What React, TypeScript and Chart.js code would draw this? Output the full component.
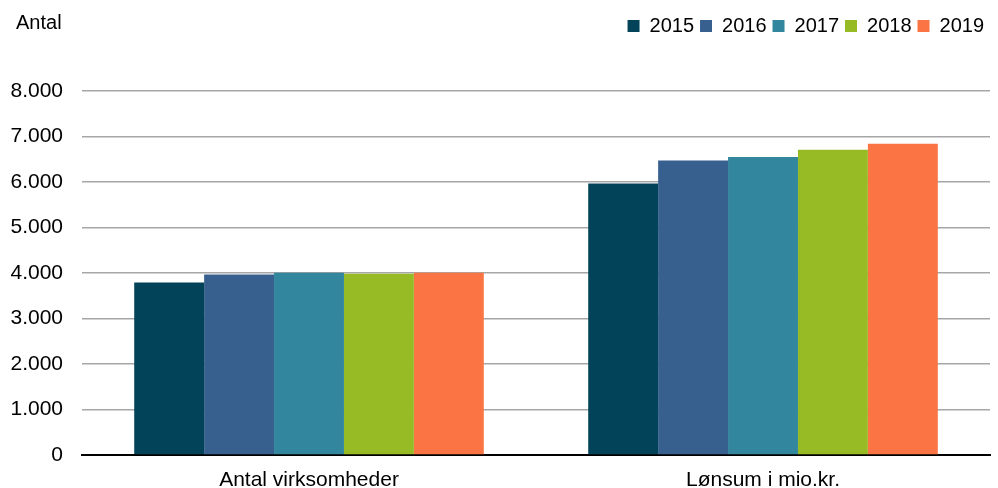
import React, { useEffect, useRef } from "react";
import { Chart, registerables } from "chart.js";

Chart.register(...registerables);

const categories = ["Antal virksomheder", "Lønsum i mio.kr."];
const seriesLabels = ["2015", "2016", "2017", "2018", "2019"];
const values2015 = [3790, 5965];
const values2016 = [3965, 6470];
const values2017 = [4005, 6550];
const values2018 = [3985, 6710];
const values2019 = [4005, 6840];
const seriesColors = ["#03435A", "#37608F", "#32869D", "#96BB24", "#FB7443"];
const yTicks = [0, 1000, 2000, 3000, 4000, 5000, 6000, 7000, 8000];
const yTitle = "Antal";

const FONT = "'Liberation Sans', Arial, sans-serif";

export default function App() {
  const ref = useRef<HTMLCanvasElement>(null);
  useEffect(() => {
    if (!ref.current) return;
    const all = [values2015, values2016, values2017, values2018, values2019];
    const titlePlugin = {
      id: "yTitleText",
      afterInit(chart: any) {
        const lg = chart.legend;
        if (lg) {
          const f = lg.fit;
          lg.fit = function () {
            f.call(this);
            this.height += 45;
          };
        }
      },
      afterDraw(chart: any) {
        const ctx = chart.ctx;
        ctx.save();
        ctx.font = `20px ${FONT}`;
        ctx.fillStyle = "#000";
        ctx.textAlign = "left";
        ctx.textBaseline = "middle";
        ctx.fillText(yTitle, 16, 23);
        ctx.restore();
      },
    };
    const chart = new Chart(ref.current, {
      type: "bar",
      data: {
        labels: categories,
        datasets: all.map((d, i) => ({
          label: seriesLabels[i],
          data: d,
          backgroundColor: seriesColors[i],
          borderWidth: 0,
          categoryPercentage: 0.77,
          barPercentage: 1,
        })),
      },
      options: {
        animation: false,
        responsive: true,
        maintainAspectRatio: false,
        layout: { padding: { left: 0, right: 8, top: 10, bottom: 0 } },
        plugins: {
          tooltip: { enabled: false },
          legend: {
            position: "top",
            align: "end",
            labels: {
              boxWidth: 12,
              boxHeight: 12,
              padding: 6,
              color: "#000",
              font: { family: FONT, size: 20 },
            },
          },
        },
        scales: {
          x: {
            afterFit(scale: any) {
              scale.height = 33;
            },
            grid: { display: false, drawTicks: false },
            border: { display: true, color: "#000", width: 2 },
            ticks: { color: "#000", font: { family: FONT, size: 21, lineHeight: 1 }, padding: 15 },
          },
          y: {
            min: 0,
            max: 8000,
            afterFit(scale: any) {
              scale.width = 82;
            },
            afterBuildTicks(axis: any) {
              axis.ticks = yTicks.map((v) => ({ value: v }));
            },
            grid: { color: "#A6A6A6", lineWidth: 1.5, drawTicks: false },
            border: { display: false },
            ticks: {
              color: "#000",
              padding: 19,
              font: { family: FONT, size: 21 },
              callback: (v: any) => Number(v).toLocaleString("da-DK"),
            },
          },
        },
      },
      plugins: [titlePlugin],
    });
    return () => chart.destroy();
  }, []);
  return (
    <div style={{ position: "absolute", left: 0, top: 0, width: 998, height: 488, background: "#fff" }}>
      <canvas ref={ref} />
    </div>
  );
}
